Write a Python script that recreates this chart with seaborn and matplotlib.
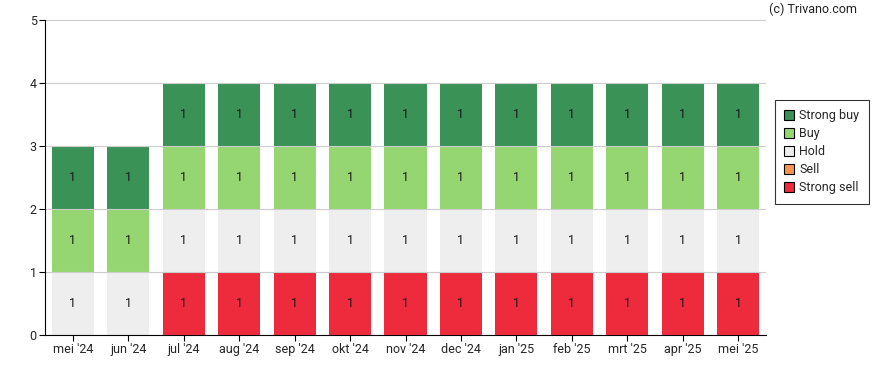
import numpy as np
import pandas as pd
import matplotlib
matplotlib.use("Agg")
import matplotlib.pyplot as plt
from matplotlib.patches import Patch
import seaborn as sns

# Analyst ratings per month (counts)
months = ["mei '24", "jun '24", "jul '24", "aug '24", "sep '24", "okt '24", "nov '24",
          "dec '24", "jan '25", "feb '25", "mrt '25", "apr '25", "mei '25"]
strong_sell = [0, 0, 1, 1, 1, 1, 1, 1, 1, 1, 1, 1, 1]
sell = [0, 0, 0, 0, 0, 0, 0, 0, 0, 0, 0, 0, 0]
hold = [1, 1, 1, 1, 1, 1, 1, 1, 1, 1, 1, 1, 1]
buy = [1, 1, 1, 1, 1, 1, 1, 1, 1, 1, 1, 1, 1]
strong_buy = [1, 1, 1, 1, 1, 1, 1, 1, 1, 1, 1, 1, 1]

categories = ["Strong sell", "Sell", "Hold", "Buy", "Strong buy"]
colors = {"Strong buy": "#3a9257", "Buy": "#95d672", "Hold": "#eeeeee",
          "Sell": "#f79450", "Strong sell": "#ee2b3d"}

df = pd.DataFrame({"month": months, "Strong sell": strong_sell, "Sell": sell,
                   "Hold": hold, "Buy": buy, "Strong buy": strong_buy})

sns.set_style("white")
plt.rcParams["font.family"] = ["Roboto", "DejaVu Sans"]

fig = plt.figure(figsize=(8.88, 3.70), dpi=100)
ax = fig.add_axes([45 / 888, 35 / 370, 721 / 888, 315 / 370])

# cumulative tops, draw tallest layer first so lower layers sit on top
cum = df[categories].cumsum(axis=1)
for cat in reversed(categories):
    sns.barplot(x=df["month"], y=cum[cat], color=colors[cat], width=0.76,
                saturation=1, linewidth=0, ax=ax, zorder=1)

# value labels in the middle of each segment
for i in range(len(months)):
    base = 0
    for cat in categories:
        v = df[cat][i]
        if v > 0:
            ax.text(i, base + v / 2, str(v), ha="center", va="center",
                    fontsize=9, color="#1a1a1a", zorder=3)
        base += v

ax.set_ylim(0, 5)
ax.set_xlim(-0.5, len(months) - 0.5)
ax.set_yticks(range(6))
ax.set_xlabel("")
ax.set_ylabel("")
ax.set_axisbelow(False)
ax.yaxis.grid(True, color="#cccccc", linewidth=0.8, zorder=2)
for s in ["top", "right"]:
    ax.spines[s].set_visible(False)
for s in ["left", "bottom"]:
    ax.spines[s].set_color("black")
    ax.spines[s].set_linewidth(0.8)
    ax.spines[s].set_zorder(4)
ax.tick_params(axis="both", labelsize=9, length=4, width=0.8, color="black",
               left=True, bottom=True, pad=2)

handles = [Patch(facecolor=colors[c], edgecolor="black", linewidth=0.8, label=c)
           for c in reversed(categories)]
leg = ax.legend(handles=handles, loc="upper left", bbox_to_anchor=(1.0125, 0.746),
                fontsize=9, frameon=True, fancybox=False, edgecolor="black",
                handlelength=0.75, handleheight=0.75, handletextpad=0.45,
                borderpad=0.75, labelspacing=0.4, borderaxespad=0)
leg.get_frame().set_linewidth(0.8)

fig.text(857 / 888, 1 - 9 / 370, "(c) Trivano.com", ha="right", va="center",
         fontsize=9, color="#222222")

fig.savefig("out.png", dpi=100)
